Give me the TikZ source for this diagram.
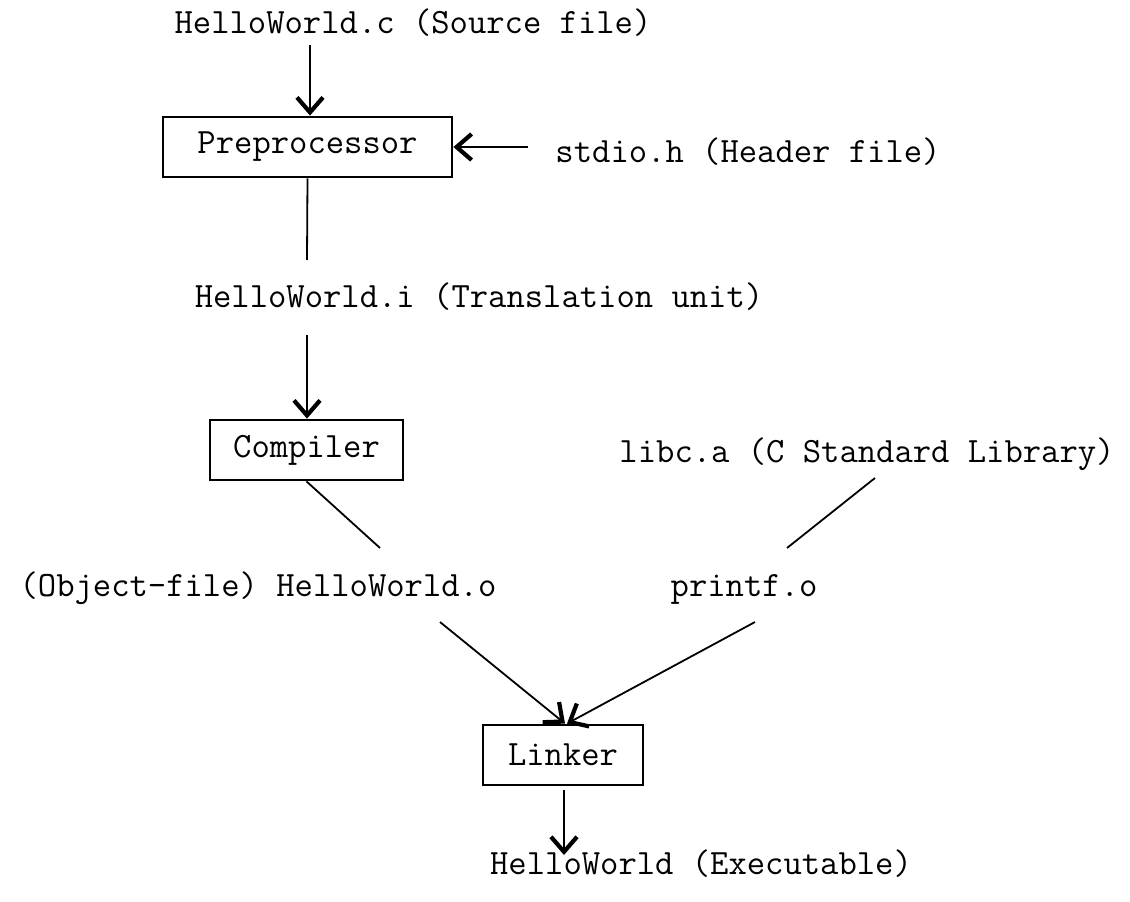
\documentclass[tikz,border=0pt]{standalone}
\usetikzlibrary{arrows.meta}
\begin{document}
\begin{tikzpicture}[x=1pt,y=-1pt,
  >={Straight Barb[length=15pt,width=26pt,line width=4.2pt]},
  txt/.style={font=\ttfamily\fontsize{35.6}{40}\selectfont, inner sep=0pt, anchor=base},
  stage/.style={draw, line width=2.8pt, font=\ttfamily\fontsize{35.6}{40}\selectfont, minimum height=60pt, inner sep=0pt},
  conn/.style={line width=1.8pt},
  arr/.style={conn, ->}]
\useasboundingbox (0,0) rectangle (1130,902);
% text nodes (anchor base)
\node[txt] (src) at (413,34) {HelloWorld.c (Source file)};
\node[stage, minimum width=289pt] (pre) at (307.5,147) {Preprocessor};
\node[txt] (hdr) at (748,162) {stdio.h (Header file)};
\node[txt] (tu) at (479,307) {HelloWorld.i (Translation unit)};
\node[stage, minimum width=193pt] (comp) at (306.5,450) {Compiler};
\node[txt] (lib) at (867,462) {libc.a (C Standard Library)};
\node[txt] (obj) at (258,596) {(Object-file) HelloWorld.o};
\node[txt] (pf) at (744,596) {printf.o};
\node[stage, minimum width=160pt] (link) at (563,755) {Linker};
\node[txt] (exe) at (701,874) {HelloWorld (Executable)};
% free ends
\coordinate (s1) at (310,45);
\coordinate (h1) at (528,147);
\coordinate (p1) at (307,260);
\coordinate (t1) at (307,335);
\coordinate (c1) at (380,548);
\coordinate (l0) at (875,478);
\coordinate (l1) at (787,548);
\coordinate (o1) at (440,622);
\coordinate (f1) at (755,622);
\coordinate (k1) at (564,790);
\coordinate (e1) at (564,855);
% connectors
\draw[arr] (s1) -- (pre.north -| s1);
\draw[arr] (h1) -- (pre.east |- h1);
\draw[conn] (pre.south) -- (p1);
\draw[arr] (t1) -- (comp.north -| t1);
\draw[conn] (comp.south) -- (c1);
\draw[conn] (l0) -- (l1);
\draw[arr] (o1) -- ([xshift=2pt]link.north);
\draw[arr] (f1) -- ([xshift=4pt]link.north);
\draw[arr] (k1) -- (e1);
\end{tikzpicture}
\end{document}
